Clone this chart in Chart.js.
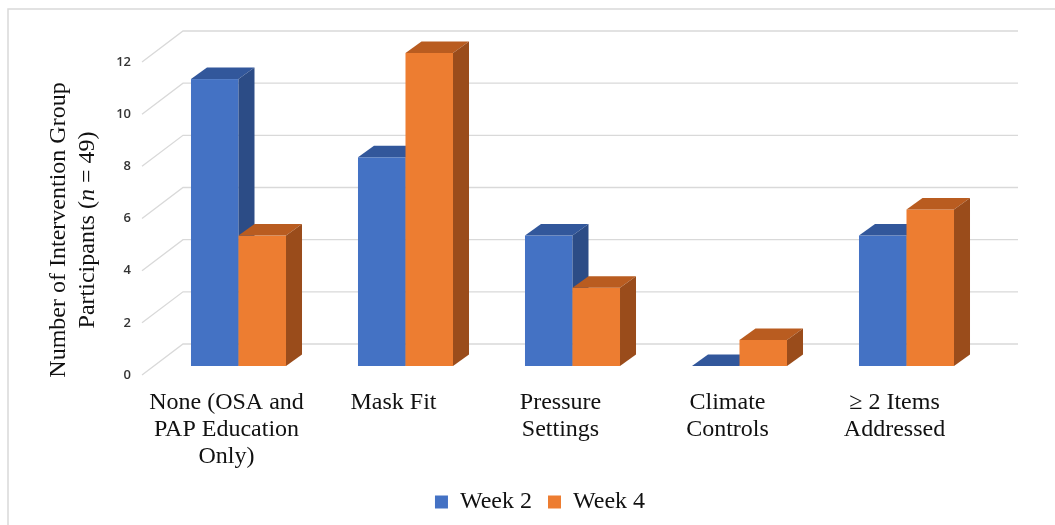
<!DOCTYPE html>
<html>
<head>
<meta charset="utf-8">
<title>Intervention Group Participants by Item Addressed</title>
<script src="https://cdn.jsdelivr.net/npm/chart.js@4.4.1/dist/chart.umd.min.js"></script>
<style>
  html, body { margin: 0; padding: 0; background: #ffffff; }
  #wrap { width: 1055px; height: 525px; }
</style>
</head>
<body>
<div id="wrap"><canvas id="chart" width="1055" height="525"></canvas></div>
<script>
// ---- data ----
const categories = [
  ['None (OSA and', 'PAP Education', 'Only)'],
  'Mask Fit',
  ['Pressure', 'Settings'],
  ['Climate', 'Controls'],
  ['\u2265 2 Items', 'Addressed']
];
const week2 = [11, 8, 5, 0, 5];
const week4 = [5, 12, 3, 1, 6];
const seriesNames = ['Week 2', 'Week 4'];
const yTicks = [0, 2, 4, 6, 8, 10, 12];
const yTitleLine1 = 'Number of Intervention Group';
const yTitleLine2 = ['Participants (', 'n', ' = 49)'];

// ---- styling ----
const SERIF = '"Liberation Serif", "Times New Roman", serif';
const faces = [
  { front: '#4472C4', top: '#32579B', side: '#2C4C86' },
  { front: '#ED7D31', top: '#B95C20', side: '#9A4C1B' }
];
const DEPTH_X = 16, DEPTH_Y = 11.5;          // column depth
const FRONT_DX = -13, FRONT_DY = 9;          // front edge of the side wall
const BACK_DX = 28, BACK_DY = -22;           // back wall offset
const GRID = '#d9d9d9';

// outer frame of the chart
const framePlugin = {
  id: 'frame',
  beforeDraw(chart) {
    const ctx = chart.ctx;
    ctx.save();
    ctx.strokeStyle = GRID;
    ctx.lineWidth = 1.5;
    ctx.beginPath();
    ctx.moveTo(8, chart.height);
    ctx.lineTo(8, 9);
    ctx.lineTo(chart.width, 9);
    ctx.stroke();
    ctx.restore();
  }
};

// back wall grid and extruded columns
const columns3d = {
  id: 'columns3d',
  beforeDatasetsDraw(chart) {
    const { ctx, chartArea: a, scales: { y } } = chart;
    ctx.save();
    ctx.strokeStyle = GRID;
    ctx.lineWidth = 1.3;
    y.ticks.forEach(t => {
      const py = y.getPixelForValue(t.value);
      ctx.beginPath();
      ctx.moveTo(a.left + FRONT_DX, py + FRONT_DY);
      ctx.lineTo(a.left + BACK_DX, py + BACK_DY);
      ctx.lineTo(a.right + BACK_DX, py + BACK_DY);
      ctx.stroke();
    });

    const metas = chart.data.datasets.map((d, i) => chart.getDatasetMeta(i));
    const n = chart.data.labels.length;
    for (let i = 0; i < n; i++) {
      metas.forEach((meta, d) => {
        const bar = meta.data[i];
        if (!bar) return;
        const { x, y: top, base, width } = bar.getProps(['x', 'y', 'base', 'width'], true);
        const l = x - width / 2, r = x + width / 2;
        const c = faces[d];
        // front
        ctx.fillStyle = c.front;
        ctx.fillRect(l, top, width, base - top);
        // top
        ctx.fillStyle = c.top;
        ctx.beginPath();
        ctx.moveTo(l, top);
        ctx.lineTo(r, top);
        ctx.lineTo(r + DEPTH_X, top - DEPTH_Y);
        ctx.lineTo(l + DEPTH_X, top - DEPTH_Y);
        ctx.closePath();
        ctx.fill();
        // side
        ctx.fillStyle = c.side;
        ctx.beginPath();
        ctx.moveTo(r, top);
        ctx.lineTo(r + DEPTH_X, top - DEPTH_Y);
        ctx.lineTo(r + DEPTH_X, base - DEPTH_Y);
        ctx.lineTo(r, base);
        ctx.closePath();
        ctx.fill();
      });
    }
    ctx.restore();
    return false;
  }
};

// rotated two-line axis title with italic n
const yTitlePlugin = {
  id: 'yTitle',
  afterDraw(chart) {
    const ctx = chart.ctx;
    const cy = 230;
    ctx.save();
    ctx.fillStyle = '#111';
    ctx.textBaseline = 'middle';
    ctx.translate(59, cy);
    ctx.rotate(-Math.PI / 2);
    ctx.font = '24px ' + SERIF;
    ctx.textAlign = 'center';
    ctx.fillText(yTitleLine1, 0, 0);
    ctx.restore();

    ctx.save();
    ctx.fillStyle = '#111';
    ctx.textBaseline = 'middle';
    ctx.translate(88, cy);
    ctx.rotate(-Math.PI / 2);
    ctx.textAlign = 'left';
    const fonts = ['24px ' + SERIF, 'italic 24px ' + SERIF, '24px ' + SERIF];
    let total = 0;
    const widths = yTitleLine2.map((s, k) => { ctx.font = fonts[k]; const w = ctx.measureText(s).width; total += w; return w; });
    let xPos = -total / 2;
    yTitleLine2.forEach((s, k) => { ctx.font = fonts[k]; ctx.fillText(s, xPos, 0); xPos += widths[k]; });
    ctx.restore();
  }
};

new Chart(document.getElementById('chart'), {
  type: 'bar',
  data: {
    labels: categories,
    datasets: [
      { label: seriesNames[0], data: week2, backgroundColor: faces[0].front, borderWidth: 0 },
      { label: seriesNames[1], data: week4, backgroundColor: faces[1].front, borderWidth: 0 }
    ]
  },
  options: {
    responsive: false,
    animation: false,
    events: [],
    layout: { padding: { left: 90, right: 65, top: 53, bottom: 1 } },
    datasets: { bar: { categoryPercentage: 0.569, barPercentage: 1 } },
    scales: {
      x: {
        grid: { display: false, drawTicks: false },
        border: { display: false },
        ticks: {
          color: '#111',
          font: { family: SERIF, size: 24, lineHeight: 1.13 },
          padding: 23,
          labelOffset: -12,
          maxRotation: 0,
          autoSkip: false
        },
        afterFit(scale) { scale.height = 108; }
      },
      y: {
        min: yTicks[0],
        max: yTicks[yTicks.length - 1],
        grid: { display: false, drawTicks: false },
        border: { display: false },
        afterBuildTicks(scale) { scale.ticks = yTicks.map(v => ({ value: v })); },
        ticks: {
          color: '#333333',
          font: { family: '"Open Sans", "Liberation Sans", sans-serif', size: 13, weight: '600' },
          padding: 24,
          labelOffset: 9
        },
        afterFit(scale) { scale.width = 65; }
      }
    },
    plugins: {
      legend: {
        position: 'bottom',
        labels: {
          color: '#111',
          boxWidth: 13,
          boxHeight: 13,
          padding: 16,
          font: { family: SERIF, size: 24 }
        }
      },
      tooltip: { enabled: false }
    }
  },
  plugins: [framePlugin, columns3d, yTitlePlugin]
});
</script>
</body>
</html>
